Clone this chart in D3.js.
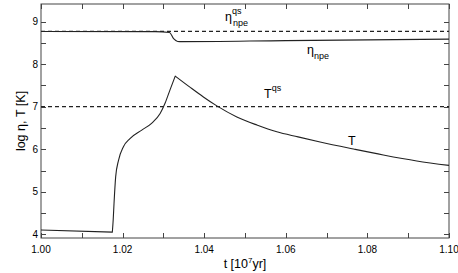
<!DOCTYPE html>
<html><head><meta charset="utf-8">
<script src="https://cdn.jsdelivr.net/npm/d3@7"></script>
<style>body{margin:0;background:#fff}svg{display:block}text{font-family:"Liberation Sans",Arial,sans-serif;fill:#000}</style>
</head><body><svg id="c" width="458" height="273"></svg>
<script>
const tTimes = [1.000,1.01748,1.0177,1.0179,1.0183,1.0190,1.0202,1.0218,1.0247,1.0271,1.0292,1.0304,1.0316,1.0329,1.0365,1.0398,1.0431,1.0480,1.0529,1.0578,1.0630,1.0684,1.0766,1.0839,1.0921,1.1000];
const tValues = [4.10,4.05,4.35,4.73,5.35,5.74,6.06,6.25,6.45,6.61,6.84,7.08,7.39,7.72,7.46,7.23,7.02,6.76,6.57,6.41,6.29,6.17,6.005,5.865,5.725,5.62];
const etaTimes = [1.000,1.028,1.0315,1.0325,1.0335,1.0345,1.060,1.100];
const etaValues = [8.77,8.765,8.745,8.60,8.535,8.53,8.555,8.59];
const etaQS = 8.77;
const tQS = 7.0;
const xTickLabels = ["1.00","1.02","1.04","1.06","1.08","1.10"];
const yTickLabels = ["4","5","6","7","8","9"];

const svg = d3.select("#c");
const L=41,R=449,T=4,B=238;
const x = d3.scaleLinear().domain([1.0,1.1]).range([L,R]);
const y = d3.scaleLinear().domain([3.913,9.415]).range([B,T]);

const g = svg.append("g");
g.append("rect").attr("x",L).attr("y",T).attr("width",R-L).attr("height",B-T).attr("fill","none").attr("stroke","#444").attr("stroke-width",1);

const xMinor = d3.range(0,11).map(i=>1+i*0.01);
const yMinor = d3.range(0,11).map(i=>4+i*0.5);
const tl=5;
xMinor.forEach(v=>{
  const px=Math.round(x(v))+0.5;
  g.append("line").attr("x1",px).attr("x2",px).attr("y1",B).attr("y2",B-tl).attr("stroke","#444");
  g.append("line").attr("x1",px).attr("x2",px).attr("y1",T).attr("y2",T+tl).attr("stroke","#444");
});
yMinor.forEach(v=>{
  const py=Math.round(y(v))+0.5;
  g.append("line").attr("x1",L).attr("x2",L+tl).attr("y1",py).attr("y2",py).attr("stroke","#444");
  g.append("line").attr("x1",R).attr("x2",R-tl).attr("y1",py).attr("y2",py).attr("stroke","#444");
});
xTickLabels.forEach(s=>{
  g.append("text").attr("x",x(+s)).attr("y",253).attr("text-anchor","middle").attr("font-size",10).text(s);
});
yTickLabels.forEach(s=>{
  g.append("text").attr("x",L-3).attr("y",y(+s)+3.5).attr("text-anchor","end").attr("font-size",10).text(s);
});

const xl = g.append("text").attr("x",245).attr("y",268).attr("text-anchor","middle").attr("font-size",12.5);
xl.append("tspan").text("t [10");
xl.append("tspan").attr("font-size",8).attr("dy",-5).text("7");
xl.append("tspan").attr("dy",5).text("yr]");
g.append("text").attr("transform","translate(25,121) rotate(-90)").attr("text-anchor","middle").attr("font-size",12.5).text("log η, T [K]");

const dash="4,3";
g.append("line").attr("x1",L).attr("x2",R).attr("y1",y(etaQS)).attr("y2",y(etaQS)).attr("stroke","#222").attr("stroke-width",1.2).attr("stroke-dasharray",dash);
g.append("line").attr("x1",L).attr("x2",R).attr("y1",y(tQS)).attr("y2",y(tQS)).attr("stroke","#222").attr("stroke-width",1.2).attr("stroke-dasharray",dash);

const pts = tTimes.map((t,i)=>[x(t),y(tValues[i])]);
const iMin = tValues.indexOf(d3.min(tValues));
const iMax = tValues.indexOf(d3.max(tValues));
const mono = d3.line().curve(d3.curveMonotoneX);
const dT = d3.line()(pts.slice(0,iMin+1)) + mono(pts.slice(iMin,iMax+1)).replace(/^M/,"L") + mono(pts.slice(iMax)).replace(/^M/,"L");
g.append("path").attr("d",dT).attr("fill","none").attr("stroke","#222").attr("stroke-width",1.1).attr("stroke-linejoin","round");
g.append("path").attr("d",mono(etaTimes.map((t,i)=>[x(t),y(etaValues[i])]))).attr("fill","none").attr("stroke","#222").attr("stroke-width",1.1);

function lab(xp,yp,main,sup,sub){
  const t=g.append("text").attr("x",xp).attr("y",yp).attr("font-size",12.5);
  t.append("tspan").text(main);
  if(sup){ t.append("tspan").attr("font-size",9).attr("dy",-7).text(sup); }
  if(sub){ const s=t.append("tspan").attr("font-size",9).text(sub);
    if(sup) s.attr("x",xp+8).attr("dy",12); else s.attr("dy",5);}
}
lab(225,21,"η","qs","npe");
lab(307,54,"η",null,"npe");
lab(264,98,"T","qs",null);
lab(348,145,"T",null,null);
</script></body></html>
